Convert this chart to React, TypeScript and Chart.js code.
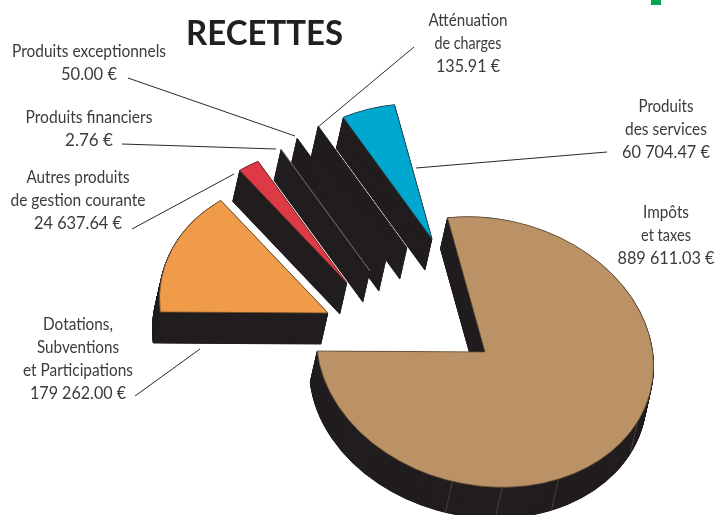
import React, { useEffect, useRef } from "react";
import { Chart, registerables } from "chart.js";

Chart.register(...registerables);

const categories = [
  "Impôts et taxes",
  "Dotations, Subventions et Participations",
  "Autres produits de gestion courante",
  "Produits financiers",
  "Produits exceptionnels",
  "Atténuation de charges",
  "Produits des services",
];
const values = [889611.03, 179262.0, 24637.64, 2.76, 50.0, 135.91, 60704.47];
const sliceColors = ["#BB9265", "#EF9B4A", "#DC3A44", "#231F20", "#231F20", "#231F20", "#00A7CE"];
const edgeColors = ["#5e4a33", "#6e4a24", "#6e2a2a", "#6f6d6e", "#231F20", "#231F20", "#1d4a5c"];

// Where each exploded slice's tip sits on the page, and the order they are painted in.
const sliceTips: [number, number][] = [
  [485, 352], [328, 313], [347, 283], [370, 271], [386, 260], [407, 248], [432, 239],
];
const paintOrder = [0, 6, 5, 4, 3, 2, 1];
const DARK = "#231F20";
const DEPTH = 31;
const DEPTH_STEPS = 96;
const DEPTH_DX = -7;
const TILT = { a: 1, b: 0.07, c: 0.015, d: 0.8 };
const seamAngles = [192, 175, 155, 116];

const TEXT = "#3d3a3b";
const FONT = "Lato, 'Noto Sans', sans-serif";
const labelBlocks: { x: number; y: number; w: number[]; lines: string[] }[] = [
  { x: 89, y: 57, w: [154, 56], lines: ["Produits exceptionnels", "50.00 €"] },
  { x: 89, y: 123, w: [127, 48], lines: ["Produits financiers", "2.76 €"] },
  { x: 78, y: 183, w: [103, 135, 88], lines: ["Autres produits", "de gestion courante", "24 637.64 €"] },
  { x: 468, y: 26, w: [79, 67, 64], lines: ["Atténuation", "de charges", "135.91 €"] },
  { x: 666, y: 112, w: [55, 82, 88], lines: ["Produits", "des services", "60 704.47 €"] },
  { x: 666, y: 218, w: [46, 50, 97], lines: ["Impôts", "et taxes", "889 611.03 €"] },
  { x: 78, y: 330, w: [70, 82, 110, 96], lines: ["Dotations,", "Subventions", "et Participations", "179 262.00 €"] },
];
const leaders: [number, number, number, number][] = [
  [128, 78, 295, 136],
  [122, 144, 276, 149],
  [132, 229, 234, 174],
  [318, 127, 414, 47],
  [416, 168, 607, 152],
  [135, 396, 200, 349],
];

const tiltedPie = {
  id: "tiltedPie",
  beforeDatasetsDraw(chart: any) {
    const ctx = chart.ctx as CanvasRenderingContext2D;
    const arcs = chart.getDatasetMeta(0).data as any[];
    const place = (i: number, t: number) => {
      const arc = arcs[i];
      const [tx, ty] = sliceTips[i];
      ctx.transform(TILT.a, TILT.b, TILT.c, TILT.d, tx + DEPTH_DX * t, ty + DEPTH * t);
      ctx.translate(-arc.x, -arc.y);
    };
    for (const i of paintOrder) {
      const arc = arcs[i];
      const original = arc.options;
      arc.options = { ...original, backgroundColor: DARK, borderColor: DARK, borderWidth: 1 };
      for (let s = DEPTH_STEPS; s >= 1; s--) {
        ctx.save();
        place(i, s / DEPTH_STEPS);
        arc.draw(ctx);
        ctx.restore();
      }
      arc.options = original;
      ctx.save();
      place(i, 0);
      arc.draw(ctx);
      ctx.restore();
    }
    // faint seams on the wall of the biggest slice
    const big = arcs[0];
    const r = big.outerRadius;
    ctx.save();
    ctx.strokeStyle = "#5a5657";
    ctx.lineWidth = 0.6;
    for (const deg of seamAngles) {
      const a = (deg * Math.PI) / 180;
      const ux = r * Math.sin(a);
      const uy = -r * Math.cos(a);
      const x = sliceTips[0][0] + TILT.a * ux + TILT.c * uy;
      const y = sliceTips[0][1] + TILT.b * ux + TILT.d * uy;
      ctx.beginPath();
      ctx.moveTo(x, y);
      ctx.lineTo(x + DEPTH_DX, y + DEPTH);
      ctx.stroke();
    }
    ctx.restore();
    return false;
  },
  afterDraw(chart: any) {
    const ctx = chart.ctx as CanvasRenderingContext2D;
    ctx.save();
    ctx.fillStyle = "#00A651";
    ctx.fillRect(651, 0, 10, 5);
    ctx.strokeStyle = "#2b2829";
    ctx.lineWidth = 1;
    for (const [x1, y1, x2, y2] of leaders) {
      ctx.beginPath();
      ctx.moveTo(x1, y1);
      ctx.lineTo(x2, y2);
      ctx.stroke();
    }
    ctx.textAlign = "center";
    ctx.textBaseline = "alphabetic";
    ctx.fillStyle = "#231F20";
    ctx.font = `bold 34px ${FONT}`;
    ctx.fillText("RECETTES", 264.5, 45, 157);
    ctx.fillStyle = TEXT;
    ctx.font = `17.5px ${FONT}`;
    for (const b of labelBlocks) {
      b.lines.forEach((line, i) => ctx.fillText(line, b.x, b.y + i * 23, b.w[i]));
    }
    ctx.restore();
  },
};

export default function App() {
  const ref = useRef<HTMLCanvasElement>(null);
  useEffect(() => {
    const chart = new Chart(ref.current!, {
      type: "pie",
      data: {
        labels: categories,
        datasets: [
          {
            data: values,
            backgroundColor: sliceColors,
            borderColor: edgeColors,
            borderWidth: 0.8,
            radius: 168.5,
            hoverOffset: 0,
          },
        ],
      },
      options: {
        animation: false,
        responsive: false,
        maintainAspectRatio: false,
        rotation: -12,
        events: [],
        layout: { padding: 0 },
        plugins: { legend: { display: false }, title: { display: false }, tooltip: { enabled: false } },
      },
      plugins: [tiltedPie],
    } as any);
    return () => chart.destroy();
  }, []);
  return (
    <div style={{ position: "fixed", left: 0, top: 0, width: 715, height: 515, background: "#fff" }}>
      <canvas ref={ref} width={715} height={515} style={{ display: "block" }} />
    </div>
  );
}
